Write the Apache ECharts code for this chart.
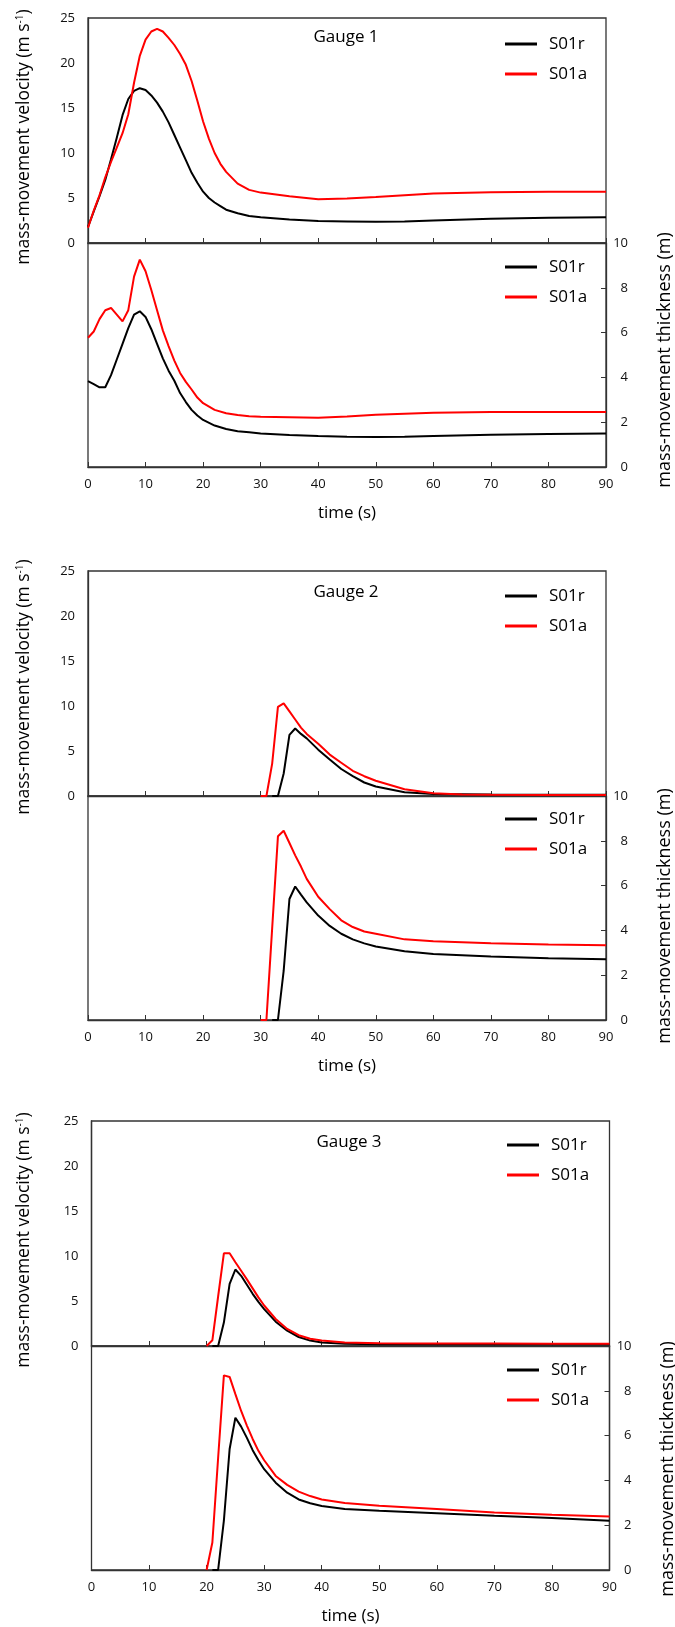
<!DOCTYPE html>
<html>
<head>
<meta charset="utf-8">
<script src="https://cdn.jsdelivr.net/npm/echarts@6/dist/echarts.min.js"></script>
<style>
html,body{margin:0;padding:0;background:#fff;}
#chart{width:675px;height:1627px;}
</style>
</head>
<body>
<div id="chart"></div>
<script>
// ---------- DATA ----------
const seriesNames = ['S01r', 'S01a'];
const gaugeTitles = ['Gauge 1', 'Gauge 2', 'Gauge 3'];
const xTicks = [0, 10, 20, 30, 40, 50, 60, 70, 80, 90];

// Gauge 1 velocity
const g1VelT = [0,1,2,3,4,5,6,7,8,9,10,11,12,13,14,15,16,17,18,19,20,21,22,23,24,26,28,30,35,40,45,50,55,60,70,80,90];
const g1VelR = [1.8,3.5,5.2,7.0,9.3,11.7,14.2,16.0,16.9,17.2,17.0,16.4,15.6,14.6,13.4,12.0,10.6,9.2,7.8,6.7,5.7,5.0,4.5,4.1,3.7,3.3,3.0,2.85,2.6,2.45,2.4,2.35,2.4,2.5,2.7,2.8,2.85];
const g1VelA = [1.7,3.6,5.3,7.3,9.0,10.6,12.2,14.3,17.8,20.8,22.6,23.5,23.8,23.5,22.8,22.0,21.0,19.8,18.0,15.8,13.5,11.6,10.0,8.8,7.9,6.6,5.9,5.6,5.2,4.85,4.95,5.1,5.3,5.5,5.65,5.7,5.7];
// Gauge 1 thickness
const g1ThkT = [0,1,2,3,4,5,6,7,8,9,10,11,12,13,14,15,16,17,18,19,20,22,24,26,28,30,35,40,45,50,55,60,70,80,90];
const g1ThkR = [3.83,3.7,3.56,3.56,4.1,4.8,5.5,6.2,6.8,6.95,6.7,6.15,5.5,4.85,4.3,3.85,3.3,2.9,2.55,2.3,2.1,1.85,1.7,1.6,1.55,1.5,1.43,1.38,1.35,1.34,1.35,1.38,1.44,1.47,1.49];
const g1ThkA = [5.77,6.05,6.6,7.0,7.1,6.8,6.5,7.0,8.5,9.26,8.74,7.9,7.0,6.1,5.4,4.75,4.2,3.8,3.46,3.1,2.85,2.55,2.4,2.32,2.27,2.24,2.22,2.2,2.25,2.33,2.38,2.42,2.45,2.45,2.45];

// Gauge 2 velocity
const g2VelTR = [32,33,34,35,36,37,38,40,42,44,46,48,50,55,60,70,80,90];
const g2VelR  = [0,0,2.5,6.8,7.5,6.9,6.4,5.15,4.05,3.0,2.2,1.5,1.05,0.42,0.22,0.16,0.15,0.15];
const g2VelTA = [30,31,32,33,34,35,36,37,38,40,42,44,46,48,50,55,60,65,70,80,90];
const g2VelA  = [0,0,3.6,9.9,10.3,9.4,8.5,7.6,6.9,5.8,4.6,3.7,2.8,2.2,1.7,0.75,0.3,0.18,0.15,0.12,0.1];
// Gauge 2 thickness
const g2ThkTR = [32,33,34,35,36,37,38,40,42,44,46,48,50,55,60,70,80,90];
const g2ThkR  = [0,0,2.2,5.4,5.96,5.6,5.25,4.66,4.2,3.85,3.6,3.42,3.28,3.07,2.95,2.83,2.76,2.71];
const g2ThkTA = [30,31,32,33,34,35,36,37,38,40,42,44,46,48,50,55,60,70,80,90];
const g2ThkA  = [0,0,4.1,8.2,8.45,7.9,7.35,6.85,6.3,5.5,4.95,4.45,4.15,3.95,3.85,3.6,3.52,3.43,3.37,3.34];

// Gauge 3 velocity
const g3VelTR = [21,22,23,24,25,26,27,28,29,30,32,34,36,38,40,44,50,60,90];
const g3VelR  = [0,0,2.6,6.9,8.5,7.8,6.8,5.8,4.9,4.1,2.7,1.7,1.0,0.6,0.4,0.25,0.19,0.19,0.19];
const g3VelTA = [20,21,22,23,24,25,26,27,28,29,30,32,34,36,38,40,44,50,60,70,80,90];
const g3VelA  = [0,0.63,5.5,10.3,10.3,9.3,8.36,7.4,6.4,5.4,4.5,3.0,1.9,1.2,0.8,0.6,0.4,0.3,0.28,0.27,0.26,0.26];
// Gauge 3 thickness
const g3ThkTR = [21,22,23,24,25,26,27,28,29,30,32,34,36,38,40,44,50,60,70,80,90];
const g3ThkR  = [0,0,2.2,5.4,6.8,6.4,5.9,5.35,4.9,4.5,3.9,3.45,3.15,2.98,2.86,2.72,2.64,2.53,2.42,2.32,2.2];
const g3ThkTA = [20,21,22,23,24,25,26,27,28,29,30,32,34,36,38,40,44,50,60,70,80,90];
const g3ThkA  = [0,1.23,5.0,8.69,8.62,7.85,7.1,6.45,5.85,5.32,4.9,4.2,3.8,3.5,3.3,3.15,2.99,2.87,2.72,2.57,2.47,2.39];

// ---------- BUILD ----------
const FONT = "'Open Sans', sans-serif";
const AX = '#333';
const COLORS = ['#000000', '#ff0000'];
function pairs(t, v) { return t.map((x, i) => [x, v[i]]); }

const panels = [
  { vel: [pairs(g1VelT, g1VelR), pairs(g1VelT, g1VelA)], thk: [pairs(g1ThkT, g1ThkR), pairs(g1ThkT, g1ThkA)] },
  { vel: [pairs(g2VelTR, g2VelR), pairs(g2VelTA, g2VelA)], thk: [pairs(g2ThkTR, g2ThkR), pairs(g2ThkTA, g2ThkA)] },
  { vel: [pairs(g3VelTR, g3VelR), pairs(g3VelTA, g3VelA)], thk: [pairs(g3ThkTR, g3ThkR), pairs(g3ThkTA, g3ThkA)] }
];

const layout = [
  { left: 88, top: 18, legX: 500, legVel: 30, legThk: 253, titleX: 346, titleY: 37, ylabY: 137, rlabX: 665, rlabY: 360 },
  { left: 88, top: 571, legX: 500, legVel: 582, legThk: 805, titleX: 346, titleY: 592, ylabY: 687, rlabX: 665, rlabY: 916 },
  { left: 91.5, top: 1121, legX: 502, legVel: 1131, legThk: 1356, titleX: 349, titleY: 1142, ylabY: 1240, rlabX: 668, rlabY: 1469 }
];
const W = 518, HV = 225, HT = 224;

const grid = [], xAxis = [], yAxis = [], series = [], legend = [], graphic = [];

layout.forEach((L, g) => {
  const gv = grid.length;
  grid.push({ left: L.left, top: L.top, width: W, height: HV, show: true, borderColor: AX, borderWidth: 1.3, backgroundColor: 'transparent' });
  const gt = grid.length;
  grid.push({ left: L.left, top: L.top + HV, width: W, height: HT, show: true, borderColor: AX, borderWidth: 1.3, backgroundColor: 'transparent' });

  const xBase = {
    type: 'value', min: 0, max: 90, interval: 10,
    axisLine: { show: true, onZero: false, lineStyle: { color: AX, width: 1.3 } },
    axisTick: { show: true, inside: true, length: 5, lineStyle: { color: AX, width: 1 } },
    splitLine: { show: false }
  };
  xAxis.push(Object.assign({}, xBase, { gridIndex: gv, axisLabel: { show: false } }));
  xAxis.push(Object.assign({}, xBase, {
    gridIndex: gt,
    axisLabel: { show: true, fontFamily: FONT, fontSize: 13, color: '#111', margin: 11,
      formatter: v => xTicks.indexOf(v) >= 0 ? String(v) : '' },
    name: 'time (s)', nameLocation: 'middle', nameGap: 38,
    nameTextStyle: { fontFamily: FONT, fontSize: 17, color: '#000' }
  }));

  yAxis.push({
    gridIndex: gv, type: 'value', position: 'left', min: 0, max: 25, interval: 5,
    axisLine: { show: true, onZero: false, lineStyle: { color: AX, width: 1.3 } },
    axisTick: { show: false },
    axisLabel: { fontFamily: FONT, fontSize: 13, color: '#111', margin: 13 },
    splitLine: { show: false }
  });
  yAxis.push({
    gridIndex: gt, type: 'value', position: 'right', min: 0, max: 10, interval: 2,
    axisLine: { show: true, onZero: false, lineStyle: { color: AX, width: 1.3 } },
    axisTick: { show: true, inside: true, length: 5, lineStyle: { color: AX, width: 1 } },
    axisLabel: { fontFamily: FONT, fontSize: 13, color: '#111', margin: 22, align: 'right' },
    splitLine: { show: false }
  });

  const P = panels[g];
  [[gv, P.vel], [gt, P.thk]].forEach(([gi, arr]) => {
    arr.forEach((d, si) => {
      series.push({
        type: 'line', name: seriesNames[si], xAxisIndex: gi, yAxisIndex: gi,
        data: d, showSymbol: false, symbol: 'none', smooth: false,
        lineStyle: { color: COLORS[si], width: 2 },
        itemStyle: { color: COLORS[si] },
        z: 3 + si, animation: false
      });
    });
  });

  [L.legVel, L.legThk].forEach(topY => {
    legend.push({
      data: seriesNames, orient: 'vertical', left: L.legX, top: topY,
      icon: 'rect', itemWidth: 32, itemHeight: 3, itemGap: 12,
      textStyle: { fontFamily: FONT, fontSize: 17, color: '#000', lineHeight: 18, padding: [0, 0, 0, 7] },
      selectedMode: false
    });
  });

  graphic.push({
    type: 'text', x: L.titleX, y: L.titleY,
    style: { text: gaugeTitles[g], font: '17px ' + FONT, fill: '#000', textAlign: 'center', textVerticalAlign: 'middle' }
  });
  graphic.push({
    type: 'text', x: 24, y: L.ylabY, rotation: Math.PI / 2,
    style: {
      text: 'mass-movement velocity (m s{sup|-1})',
      rich: { sup: { fontSize: 10, fontFamily: FONT, verticalAlign: 'top', padding: [0, 0, 7, 0] } },
      font: '17.5px ' + FONT, fill: '#000', textAlign: 'center', textVerticalAlign: 'middle'
    }
  });
  graphic.push({
    type: 'text', x: L.rlabX, y: L.rlabY, rotation: Math.PI / 2,
    style: { text: 'mass-movement thickness (m)', font: '18px ' + FONT, fill: '#000', textAlign: 'center', textVerticalAlign: 'middle' }
  });
});

const chart = echarts.init(document.getElementById('chart'), null, { renderer: 'canvas' });
chart.setOption({
  backgroundColor: '#ffffff',
  animation: false,
  grid, xAxis, yAxis, series, legend, graphic
});
</script>
</body>
</html>
